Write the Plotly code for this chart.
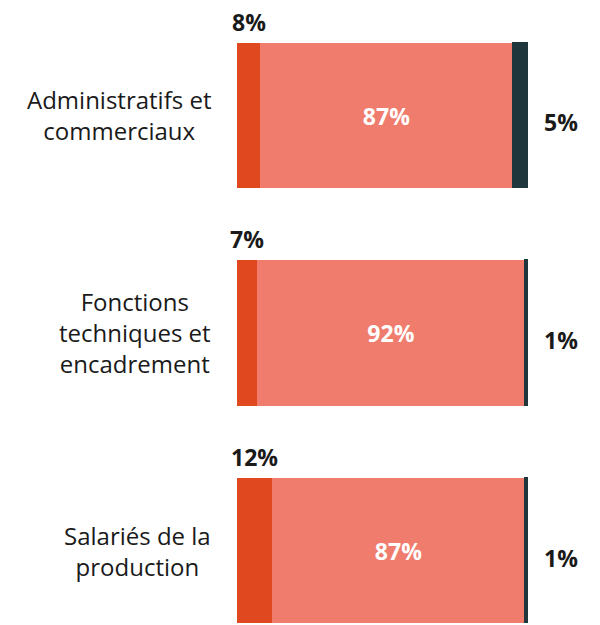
import plotly.graph_objects as go

categories = ["Administratifs et<br>commerciaux", "Fonctions<br>techniques et<br>encadrement", "Salariés de la<br>production"]
share_a = [8, 7, 12]
share_b = [87, 92, 87]
share_c = [5, 1, 1]

colors = ["#E0491F", "#F07C6E", "#1F363D"]
rows = list(range(len(categories)))

# the page body keeps its 8px margin, so the figure is 8px smaller on each side
fig = go.Figure()
fig.add_trace(go.Bar(y=rows, x=share_a, orientation="h", width=0.667, marker_color=colors[0], marker_line_width=0))
fig.add_trace(
    go.Bar(
        y=rows,
        x=share_b,
        orientation="h",
        width=0.667,
        marker_color=colors[1],
        marker_line_width=0,
        text=[f"{v}%" for v in share_b],
        textposition="inside",
        insidetextanchor="middle",
        textfont=dict(family="Open Sans", size=23, color="white", weight="bold"),
    )
)
fig.add_trace(
    go.Bar(
        y=rows, x=share_c, orientation="h", width=0.667, marker_color=colors[2],
        marker_line=dict(color=colors[2], width=1.5),
    )
)

annos = []
for i, cat in enumerate(categories):
    annos.append(dict(x=0, y=i, xref="x", yref="y", text=cat, showarrow=False, xanchor="right", yanchor="middle",
                      xshift=-24, align="center", font=dict(family="Open Sans", size=24, color="#1a1a1a")))
    # left share above the bar
    annos.append(dict(x=share_a[i] / 2, y=i - 0.3335, xref="x", yref="y", text=f"{share_a[i]}%", showarrow=False,
                      yanchor="bottom", yshift=4, borderpad=0,
                      font=dict(family="Open Sans", size=23, color="#1a1a1a", weight="bold")))
    # right share after the bar
    total = share_a[i] + share_b[i] + share_c[i]
    annos.append(dict(x=total, y=i, xref="x", yref="y", text=f"{share_c[i]}%", showarrow=False,
                      xanchor="left", xshift=14, yshift=-7,
                      font=dict(family="Open Sans", size=23, color="#1a1a1a", weight="bold")))

fig.update_layout(
    barmode="stack",
    width=592,
    height=617,
    margin=dict(l=229, r=72, t=0, b=0),
    plot_bgcolor="white",
    paper_bgcolor="white",
    showlegend=False,
    bargap=0,
    annotations=annos,
    xaxis=dict(range=[0, 100], visible=False),
    yaxis=dict(range=[2.3425, -0.494], visible=False),
)

fig.write_html("out.html")
